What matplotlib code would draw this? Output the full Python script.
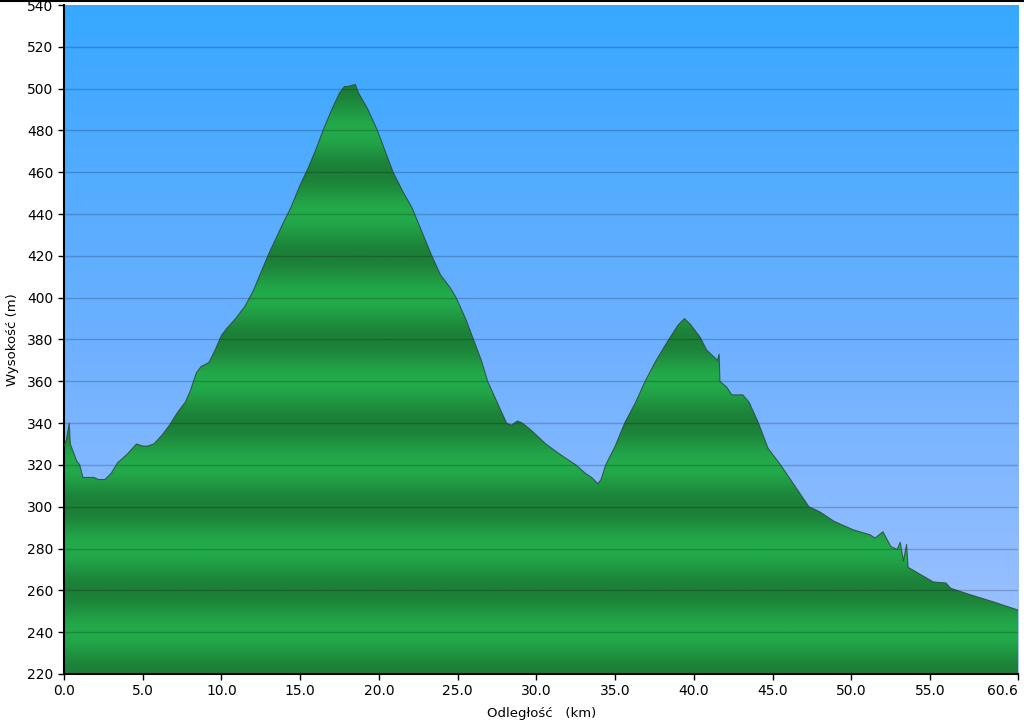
import numpy as np
import matplotlib
matplotlib.use("Agg")
import matplotlib.pyplot as plt
from matplotlib.colors import LinearSegmentedColormap

# profile (km, m)
dist = [0.0, 0.15, 0.33, 0.4, 0.6, 0.8, 1.0, 1.2, 1.27, 1.6, 1.9, 2.2, 2.6, 3.0, 3.4,
        4.0, 4.6, 5.0, 5.3, 5.7, 6.2, 6.7, 7.2, 7.7, 8.0, 8.4, 8.7, 9.2, 9.6, 10.0,
        10.3, 10.9, 11.5, 12.0, 12.5, 13.0, 13.5, 14.0, 14.4, 15.0, 15.5, 16.0, 16.45,
        17.0, 17.5, 17.8, 18.0, 18.5, 18.7, 19.3, 19.9, 20.4, 20.9, 21.5, 22.1, 22.7,
        23.3, 23.9, 24.5, 24.9, 25.5, 26.0, 26.5, 26.9, 27.5, 28.1, 28.4, 28.8, 29.1,
        29.6, 30.6, 31.5, 32.5, 33.1, 33.5, 33.9, 34.1, 34.4, 35.0, 35.6, 36.3, 36.9,
        37.6, 38.4, 39.0, 39.4, 39.8, 40.4, 40.8, 41.5, 41.6, 41.65, 42.1, 42.4, 43.1,
        43.5, 44.1, 44.7, 45.5, 46.4, 47.3, 48.0, 48.9, 50.1, 51.2, 51.5, 52.0, 52.5,
        52.9, 53.1, 53.3, 53.5, 53.6, 54.4, 55.2, 56.0, 56.3, 57.5, 59.0, 60.6]
elev = [329, 332, 340, 330, 326, 322, 320, 314, 314, 314, 314, 313, 313, 316, 321,
        325, 330, 329, 329, 330, 334, 339, 345, 350, 355, 364, 367, 369, 375, 382,
        385, 390, 396, 403, 412, 421, 429, 437, 443, 454, 462, 471, 480,
        490, 498, 501, 501, 502, 498, 490, 480, 470, 460, 451, 443, 432,
        421, 411, 405, 400, 390, 380, 370, 360, 350, 340, 339, 341, 340,
        337, 330, 325, 320, 316, 314, 311, 313, 320, 329, 340, 350, 360,
        370, 380, 387, 390, 387, 381, 375, 370, 373, 360, 357, 353.5, 353.5,
        350, 340, 328, 320, 310, 300, 297.5, 293, 289, 286.5, 285, 288, 281,
        279.5, 283, 274, 282, 271, 267.5, 264, 263.5, 261, 258, 254.5, 250.5]

x_ticks = [0, 5, 10, 15, 20, 25, 30, 35, 40, 45, 50, 55, 60.6]
x_labels = ["0.0", "5.0", "10.0", "15.0", "20.0", "25.0", "30.0", "35.0",
            "40.0", "45.0", "50.0", "55.0", "60.6"]
y_ticks = list(range(220, 541, 20))

fig = plt.figure(figsize=(10.24, 7.2), dpi=100)
ax = fig.add_axes([0.0625, 0.064, 0.932, 0.929])
ax.set_xlim(0, 60.6)
ax.set_ylim(220, 540)

# sky gradient
sky = LinearSegmentedColormap.from_list("sky", ["#a3c3ff", "#6db0ff", "#37a8ff"])
grad = np.linspace(0, 1, 256).reshape(-1, 1)
ax.imshow(grad, cmap=sky, origin="lower", aspect="auto",
          extent=[0, 60.6, 220, 540], zorder=0)

# banded green fill
yy = np.linspace(220, 540, 1200)
band = 0.5 - 0.5 * np.cos((yy - 220) / 40.0 * 2 * np.pi)
green = LinearSegmentedColormap.from_list("grn", ["#1c7f38", "#23ab4b"])
poly = ax.fill_between(dist, elev, 220, color="none", lw=0)
img = ax.imshow(band.reshape(-1, 1), cmap=green, origin="lower", aspect="auto",
                extent=[0, 60.6, 220, 540], zorder=1)
img.set_clip_path(poly.get_paths()[0], transform=ax.transData)

ax.plot(dist, elev, color="#2b4634", lw=0.8, alpha=0.8, zorder=3)

for y in y_ticks[1:-1]:
    ax.axhline(y, color="#000000", alpha=0.2, lw=1, zorder=2)

ax.set_xticks(x_ticks)
ax.set_xticklabels(x_labels)
ax.get_xticklabels()[-1].set_horizontalalignment("right")
ax.set_yticks(y_ticks)
ax.tick_params(direction="out", length=4, width=1, labelsize=10, colors="black")
for s in ["top", "right"]:
    ax.spines[s].set_visible(False)
for s in ["left", "bottom"]:
    ax.spines[s].set_linewidth(1.5)

ax.set_xlabel("Odległość   (km)", fontsize=9.5, labelpad=6)
ax.set_ylabel("Wysokość (m)", fontsize=9.5, labelpad=6)

fig.add_artist(plt.Line2D([0, 1], [0.999, 0.999], color="black", lw=1.5,
                          transform=fig.transFigure))

fig.savefig("out.png", dpi=100)
